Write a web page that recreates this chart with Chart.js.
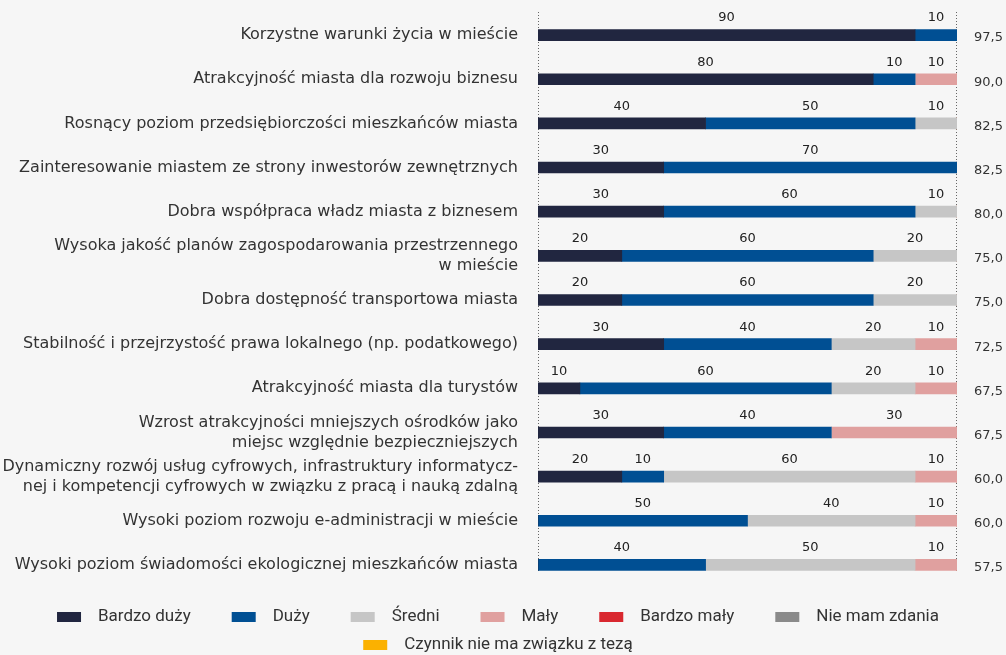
<!DOCTYPE html>
<html>
<head>
<meta charset="utf-8">
<script src="https://cdn.jsdelivr.net/npm/chart.js@4.4.1/dist/chart.umd.min.js"></script>
<style>
  html, body { margin: 0; padding: 0; background: #f6f6f6; }
  #wrap { width: 1006px; height: 655px; position: relative; }
</style>
</head>
<body>
<div id="wrap"><canvas id="barChart"></canvas></div>
<script>
// categories (top to bottom)
const kategorie = [
  'Korzystne warunki życia w mieście',
  'Atrakcyjność miasta dla rozwoju biznesu',
  'Rosnący poziom przedsiębiorczości mieszkańców miasta',
  'Zainteresowanie miastem ze strony inwestorów zewnętrznych',
  'Dobra współpraca władz miasta z biznesem',
  ['Wysoka jakość planów zagospodarowania przestrzennego', 'w mieście'],
  'Dobra dostępność transportowa miasta',
  'Stabilność i przejrzystość prawa lokalnego (np. podatkowego)',
  'Atrakcyjność miasta dla turystów',
  ['Wzrost atrakcyjności mniejszych ośrodków jako', 'miejsc względnie bezpieczniejszych'],
  ['Dynamiczny rozwój usług cyfrowych, infrastruktury informatycz-', 'nej i kompetencji cyfrowych w związku z pracą i nauką zdalną'],
  'Wysoki poziom rozwoju e-administracji w mieście',
  'Wysoki poziom świadomości ekologicznej mieszkańców miasta'
];

// shares in %
const bardzoDuzy   = [90, 80, 40, 30, 30, 20, 20, 30, 10, 30, 20,  0,  0];
const duzy         = [10, 10, 50, 70, 60, 60, 60, 40, 60, 40, 10, 50, 40];
const sredni       = [ 0,  0, 10,  0, 10, 20, 20, 20, 20,  0, 60, 40, 50];
const maly         = [ 0, 10,  0,  0,  0,  0,  0, 10, 10, 30, 10, 10, 10];
const bardzoMaly   = [ 0,  0,  0,  0,  0,  0,  0,  0,  0,  0,  0,  0,  0];
const nieMamZdania = [ 0,  0,  0,  0,  0,  0,  0,  0,  0,  0,  0,  0,  0];
const brakZwiazku  = [ 0,  0,  0,  0,  0,  0,  0,  0,  0,  0,  0,  0,  0];

// index shown in the right column
const wskaznik = [97.5, 90.0, 82.5, 82.5, 80.0, 75.0, 75.0, 72.5, 67.5, 67.5, 60.0, 60.0, 57.5];

const serie = [
  { label: 'Bardzo duży', data: bardzoDuzy, color: '#212640' },
  { label: 'Duży', data: duzy, color: '#004f93' },
  { label: 'Średni', data: sredni, color: '#c6c6c6' },
  { label: 'Mały', data: maly, color: '#e0a09f' },
  { label: 'Bardzo mały', data: bardzoMaly, color: '#d9282f' },
  { label: 'Nie mam zdania', data: nieMamZdania, color: '#8a8a8a' },
  { label: 'Czynnik nie ma związku z tezą', data: brakZwiazku, color: '#fbb100' }
];

const labelFont = '"DejaVu Sans", sans-serif';

// values above segments, index column, dotted frame
const opisy = {
  id: 'opisy',
  beforeDatasetsDraw(chart) {
    const ctx = chart.ctx, a = chart.chartArea;
    ctx.save();
    ctx.strokeStyle = '#666';
    ctx.lineWidth = 1;
    ctx.setLineDash([1, 2]);
    [a.left + 0.5, a.right - 0.5].forEach(x => {
      ctx.beginPath();
      ctx.moveTo(x, a.top - 1);
      ctx.lineTo(x, a.bottom - 15);
      ctx.stroke();
    });
    ctx.restore();
  },
  afterDatasetsDraw(chart) {
    const ctx = chart.ctx;
    ctx.save();
    ctx.font = '13px ' + labelFont;
    ctx.fillStyle = '#222';
    ctx.textAlign = 'center';
    ctx.textBaseline = 'middle';
    chart.data.datasets.forEach((ds, i) => {
      chart.getDatasetMeta(i).data.forEach((el, j) => {
        const v = ds.data[j];
        if (!v) return;
        ctx.fillText(String(v), (el.base + el.x) / 2, el.y - 17);
      });
    });
    ctx.textAlign = 'right';
    ctx.fillStyle = '#333';
    chart.getDatasetMeta(0).data.forEach((el, j) => {
      ctx.fillText(wskaznik[j].toFixed(1).replace('.', ','), 1003, el.y + 3);
    });
    ctx.restore();
  }
};

// legend drawn under the plot
const legenda = {
  id: 'legenda',
  afterDraw(chart) {
    const ctx = chart.ctx;
    const boxW = 24, boxH = 10, gap = 17, spacing = 41, maxW = 940;
    ctx.save();
    ctx.font = '17px Roboto, sans-serif';
    ctx.textBaseline = 'middle';
    ctx.textAlign = 'left';
    const items = chart.data.datasets.map(ds => ({
      text: ds.label, color: ds.backgroundColor,
      w: boxW + gap + ctx.measureText(ds.label).width
    }));
    const rows = [[]];
    let rw = 0;
    items.forEach(it => {
      const add = (rows[rows.length - 1].length ? spacing : 0) + it.w;
      if (rw + add > maxW) { rows.push([it]); rw = it.w; }
      else { rows[rows.length - 1].push(it); rw += add; }
    });
    rows.forEach((row, r) => {
      const total = row.reduce((s, it) => s + it.w, 0) + spacing * (row.length - 1);
      let x = (chart.width - total) / 2 - 5;
      const y = 617 + r * 28;
      row.forEach(it => {
        ctx.fillStyle = it.color;
        ctx.fillRect(x, y - boxH / 2, boxW, boxH);
        ctx.fillStyle = '#333';
        ctx.fillText(it.text, x + boxW + gap, y);
        x += it.w + spacing;
      });
    });
    ctx.restore();
  }
};

new Chart(document.getElementById('barChart'), {
  type: 'bar',
  data: {
    labels: kategorie,
    datasets: serie.map(s => ({
      label: s.label,
      data: s.data,
      backgroundColor: s.color,
      barThickness: 11,
      borderWidth: 0
    }))
  },
  options: {
    indexAxis: 'y',
    responsive: true,
    maintainAspectRatio: false,
    animation: false,
    layout: { padding: { top: 13, right: 49, bottom: 68, left: 0 } },
    plugins: {
      legend: { display: false },
      tooltip: { enabled: false }
    },
    scales: {
      x: { stacked: true, min: 0, max: 100, display: false },
      y: {
        stacked: true,
        grid: { display: false },
        border: { display: false },
        ticks: {
          padding: 12,
          color: '#333',
          font: { family: labelFont, size: 16, lineHeight: 1.25 }
        },
        afterFit(scale) {
          scale.width = 538;
          scale.paddingTop = 0;
          scale.paddingBottom = 0;
        }
      }
    }
  },
  plugins: [opisy, legenda]
});
</script>
</body>
</html>
